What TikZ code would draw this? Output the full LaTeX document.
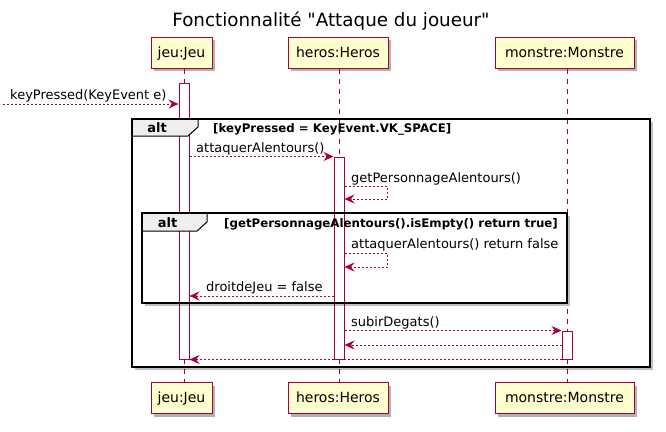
\documentclass[tikz,border=0pt]{standalone}
\usepackage{fontspec}
\setmainfont{DejaVu Sans}
\newfontfamily\titlefont{DejaVu Sans}
\usetikzlibrary{arrows.meta,shadows}
\definecolor{pline}{HTML}{A80036}
\definecolor{pfill}{HTML}{FEFECE}
\definecolor{tabfill}{HTML}{EEEEEE}
\tikzset{
 part/.style={draw=pline, fill=pfill, line width=1pt, minimum height=31pt, inner sep=0pt,
   text height=10pt, text depth=1pt, font=\fontsize{14}{16}\selectfont,
   drop shadow={shadow xshift=3pt, shadow yshift=-3pt, opacity=0.3, fill=black}},
 life/.style={draw=pline, line width=0.8pt, dash pattern=on 5pt off 5pt},
 act/.style={draw=pline, fill=white, line width=1pt, minimum width=10pt, inner sep=0pt},
 msg/.style={draw=pline, line width=0.8pt, dash pattern=on 2pt off 2pt,
   -{Stealth[length=10pt,width=9pt,inset=3.5pt]}},
 lbl/.style={anchor=base west, inner sep=0pt, font=\fontsize{13}{15}\selectfont},
 frm/.style={draw=black, line width=1.5pt},
 tab/.style={draw=black, fill=tabfill, line width=1pt},
 altlbl/.style={anchor=base, inner sep=0pt, font=\bfseries\fontsize{13}{15}\selectfont},
 cond/.style={anchor=base west, inner sep=0pt, font=\bfseries\fontsize{11.8}{13}\selectfont},
 fshadow/.style={draw=black, opacity=0.25, line width=3pt}
}
\begin{document}
\begin{tikzpicture}[x=1pt,y=-1pt]
\useasboundingbox (0,0) rectangle (666,431);
% title
\node[font=\titlefont\fontsize{18.3}{21}\selectfont, anchor=base, inner sep=0pt] (title) at (331,27) {Fonctionnalité "Attaque du joueur"};
% lifeline x positions
\coordinate (xJ) at (184,0);
\coordinate (xH) at (339,0);
\coordinate (xM) at (567,0);
% participants
\node[part, minimum width=61pt]  (jT) at (181.5,52.5) {jeu:Jeu};
\node[part, minimum width=100pt] (hT) at (338,52.5) {heros:Heros};
\node[part, minimum width=139pt] (mT) at (564.5,52.5) {monstre:Monstre};
\node[part, minimum width=61pt]  (jB) at (181.5,398) {jeu:Jeu};
\node[part, minimum width=100pt] (hB) at (338,398) {heros:Heros};
\node[part, minimum width=139pt] (mB) at (564.5,398) {monstre:Monstre};
% lifelines
\draw[life] (xJ |- jT.south) -- (xJ |- jB.north);
\draw[life] (xH |- hT.south) -- (xH |- hB.north);
\draw[life] (xM |- mT.south) -- (xM |- mB.north);
% activations
\node[act, minimum height=276pt] (aJ) at (184,221) {};
\node[act, minimum height=202pt] (aH) at (339,258) {};
\node[act, minimum height=28pt]  (aM) at (567,345) {};
% frames
\draw[fshadow] (651.5,122) -- (651.5,368.5) -- (135,368.5);
\draw[fshadow] (568.5,216) -- (568.5,304.5) -- (145,304.5);
\filldraw[tab] (132,119) -- (198,119) -- (198,127) -- (188,136) -- (132,136) -- cycle;
\draw[frm] (132,119) rectangle (650,367);
\filldraw[tab] (142,213) -- (207,213) -- (207,222) -- (197,231) -- (142,231) -- cycle;
\draw[frm] (142,213) rectangle (567,303);
\node[altlbl] (alt1) at (157,132) {alt};
\node[cond] (cond1) at (213,132) {[keyPressed = KeyEvent.VK\_SPACE]};
\node[altlbl] (alt2) at (167.5,227) {alt};
\node[cond] (cond2) at (224,227) {[getPersonnageAlentours().isEmpty() return true]};
% rows
\coordinate (kpStart) at (3,104);
\coordinate (r186) at (0,186);
\coordinate (r199) at (0,199);
\coordinate (r253) at (0,253);
\coordinate (r267) at (0,267);
\coordinate (r296) at (0,296);
\coordinate (r345) at (0,345);
\coordinate (loopR) at (387,0);
% messages
\draw[msg] (kpStart) -- (aJ.west |- kpStart);
\node[lbl] (m1) at (10,99) {keyPressed(KeyEvent e)};
\draw[msg] (aJ.east |- aH.north) -- (aH.north west);
\node[lbl] (m2) at (196,152) {attaquerAlentours()};
\draw[msg] (aH.east |- r186) -- (loopR |- r186) -- (loopR |- r199) -- (aH.east |- r199);
\node[lbl] (m3) at (351,182) {getPersonnageAlentours()};
\draw[msg] (aH.east |- r253) -- (loopR |- r253) -- (loopR |- r267) -- (aH.east |- r267);
\node[lbl] (m4) at (351,248) {attaquerAlentours() return false};
\draw[msg] (aH.west |- r296) -- (aJ.east |- r296);
\node[lbl] (m5) at (206,291) {droitdeJeu = false};
\draw[msg] (aH.east |- aM.north) -- (aM.north west);
\node[lbl] (m6) at (351,326) {subirDegats()};
\draw[msg] (aM.west |- r345) -- (aH.east |- r345);
\draw[msg] (aM.south west) -- (aJ.south east);
\end{tikzpicture}
\end{document}
